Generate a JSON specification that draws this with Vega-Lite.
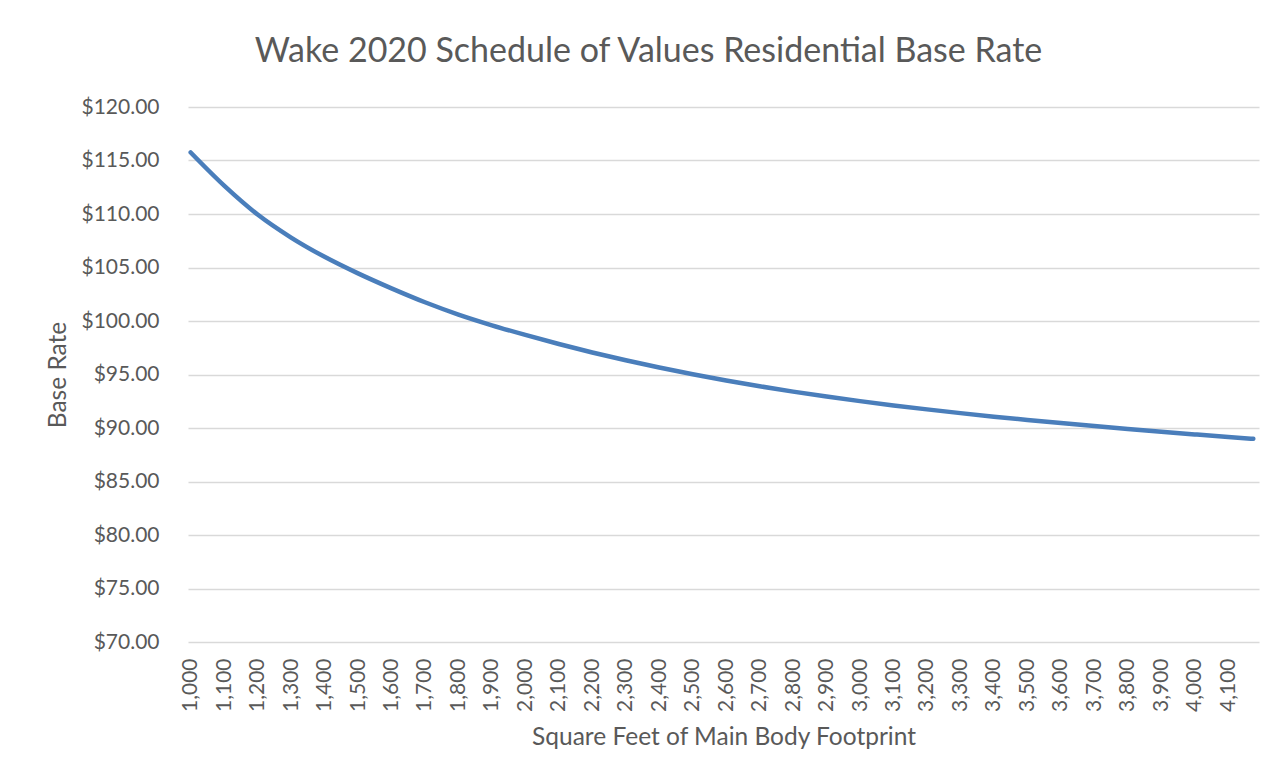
{
  "$schema": "https://vega.github.io/schema/vega-lite/v6.json",
  "autosize": {"type": "none"},
  "width": 1071,
  "height": 535,
  "padding": {"left": 188, "top": 107, "right": 28, "bottom": 138},
  "background": "white",
  "title": {
    "text": "Wake 2020 Schedule of Values Residential Base Rate",
    "font": "Lato",
    "fontSize": 34,
    "fontWeight": "normal",
    "color": "#595959",
    "anchor": "middle",
    "dx": -75,
    "offset": 27
  },
  "data": {
    "values": [
      {"sqft": 1000, "rate": 115.75},
      {"sqft": 1100, "rate": 112.65},
      {"sqft": 1200, "rate": 109.95},
      {"sqft": 1300, "rate": 107.8},
      {"sqft": 1400, "rate": 106.0},
      {"sqft": 1500, "rate": 104.45},
      {"sqft": 1600, "rate": 103.05},
      {"sqft": 1700, "rate": 101.75},
      {"sqft": 1800, "rate": 100.6},
      {"sqft": 1900, "rate": 99.6},
      {"sqft": 2000, "rate": 98.7},
      {"sqft": 2100, "rate": 97.85},
      {"sqft": 2200, "rate": 97.06},
      {"sqft": 2300, "rate": 96.33},
      {"sqft": 2400, "rate": 95.65},
      {"sqft": 2500, "rate": 95.02},
      {"sqft": 2600, "rate": 94.44},
      {"sqft": 2700, "rate": 93.9},
      {"sqft": 2800, "rate": 93.4},
      {"sqft": 2900, "rate": 92.94},
      {"sqft": 3000, "rate": 92.51},
      {"sqft": 3100, "rate": 92.11},
      {"sqft": 3200, "rate": 91.74},
      {"sqft": 3300, "rate": 91.39},
      {"sqft": 3400, "rate": 91.06},
      {"sqft": 3500, "rate": 90.75},
      {"sqft": 3600, "rate": 90.46},
      {"sqft": 3700, "rate": 90.18},
      {"sqft": 3800, "rate": 89.91},
      {"sqft": 3900, "rate": 89.65},
      {"sqft": 4000, "rate": 89.4},
      {"sqft": 4100, "rate": 89.16},
      {"sqft": 4175, "rate": 88.99}
    ]
  },
  "mark": {
    "type": "line",
    "color": "#4a7ebb",
    "strokeWidth": 4.5,
    "strokeCap": "round",
    "interpolate": "monotone"
  },
  "encoding": {
    "x": {
      "field": "sqft",
      "type": "quantitative",
      "scale": {"domain": [992, 4192], "nice": false, "zero": false},
      "axis": {
        "title": "Square Feet of Main Body Footprint",
        "values": [1000,1100,1200,1300,1400,1500,1600,1700,1800,1900,2000,2100,2200,2300,2400,2500,2600,2700,2800,2900,3000,3100,3200,3300,3400,3500,3600,3700,3800,3900,4000,4100],
        "format": ",.0f",
        "labelAngle": -90,
        "labelFont": "Lato",
        "labelFontSize": 21,
        "labelColor": "#595959",
        "labelPadding": 16,
        "labelOverlap": false,
        "labelFlush": false,
        "ticks": false,
        "domain": false,
        "grid": false,
        "titleFont": "Lato",
        "titleFontSize": 24.5,
        "titleFontWeight": "normal",
        "titleColor": "#595959",
        "titlePadding": 14
      }
    },
    "y": {
      "field": "rate",
      "type": "quantitative",
      "scale": {"domain": [70, 120], "nice": false, "zero": false},
      "axis": {
        "title": "Base Rate",
        "values": [70,75,80,85,90,95,100,105,110,115,120],
        "format": "$.2f",
        "labelFont": "Lato",
        "labelFontSize": 21,
        "labelColor": "#595959",
        "labelPadding": 29,
        "ticks": false,
        "domain": false,
        "grid": true,
        "gridColor": "#d9d9d9",
        "gridWidth": 1.5,
        "titleFont": "Lato",
        "titleFontSize": 24.5,
        "titleFontWeight": "normal",
        "titleColor": "#595959",
        "titlePadding": 10
      }
    }
  },
  "config": {
    "view": {"stroke": null}
  }
}
